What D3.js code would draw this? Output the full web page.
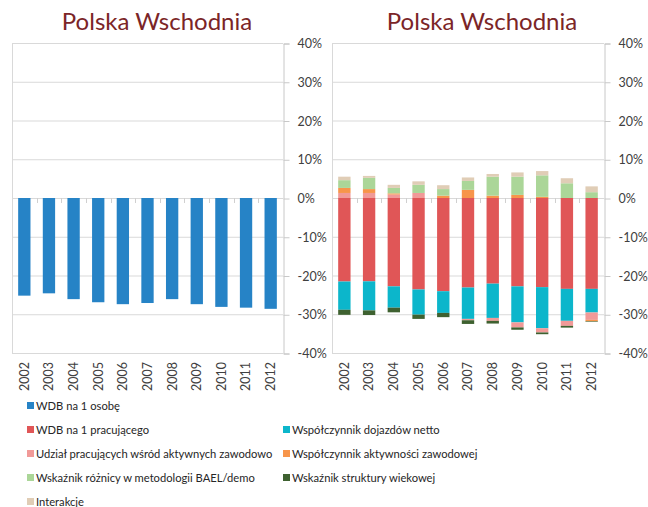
<!DOCTYPE html>
<html>
<head>
<meta charset="utf-8">
<script src="https://cdn.jsdelivr.net/npm/d3@7"></script>
<style>
  body { margin: 0; background: #fff; }
  svg { font-family: Lato, "Open Sans", sans-serif; }
</style>
</head>
<body>
<script>
// categories
const years = ["2002","2003","2004","2005","2006","2007","2008","2009","2010","2011","2012"];

// left chart
const wdbOsobe = [-25.2,-24.6,-26.1,-26.9,-27.4,-27.1,-26.1,-27.4,-28.1,-28.3,-28.6];

// right chart, stacked components
const wdbPrac    = [-21.55,-21.5,-22.8,-23.6,-24.05,-23.1,-22.1,-22.8,-23.0,-23.45,-23.45];
const dojazdy    = [-7.3,-7.5,-5.5,-6.5,-5.6,-8.1,-8.85,-9.3,-10.6,-8.25,-6.1];
const udzial     = [1.3,1.3,0.9,1.3,0.0,-0.35,-0.75,-1.3,-1.1,-1.3,-1.9];
const aktywnosc  = [1.3,1.0,0.3,0.0,0.6,2.1,0.6,0.8,0.3,0.0,-0.35];
const roznica    = [2.0,2.9,1.4,2.1,1.7,2.3,4.9,4.7,5.55,3.8,1.5];
const struktura  = [-1.3,-1.2,-1.2,-1.1,-1.1,-0.95,-0.7,-0.6,-0.45,-0.45,-0.15];
const interakcje = [0.9,0.5,0.8,0.9,1.0,0.9,0.7,1.1,1.1,1.3,1.5];

const yTicks = [-40,-30,-20,-10,0,10,20,30,40];
const titleText = "Polska Wschodnia";

const seriesNames = [
  "WDB na 1 pracującego",
  "Współczynnik dojazdów netto",
  "Udział pracujących wśród aktywnych zawodowo",
  "Współczynnik aktywności zawodowej",
  "Wskaźnik różnicy w metodologii BAEL/demo",
  "Wskaźnik struktury wiekowej",
  "Interakcje"
];
const seriesValues = [wdbPrac, dojazdy, udzial, aktywnosc, roznica, struktura, interakcje];
const seriesColors = ["#e05657","#0cb6cb","#f19a98","#f7954b","#abd698","#3e6130","#e0cdb6"];
const blue = "#2683c6";

const W = 648, H = 507;
const svg = d3.select("body").append("svg").attr("width", W).attr("height", H);

const y = d3.scaleLinear().domain([-40, 40]).range([353, 43]);

// build rows for stacking
const rows = years.map((yr, i) => {
  const r = { year: yr };
  seriesNames.forEach((n, k) => { r[n] = seriesValues[k][i]; });
  return r;
});

function panel(x0, x1, titleX) {
  const g = svg.append("g");
  const x = d3.scaleBand().domain(years).range([x0, x1]).paddingInner(0.5).paddingOuter(0.25);

  // gridlines
  g.selectAll(".grid").data(yTicks).enter().append("line")
    .attr("x1", x0).attr("x2", x1)
    .attr("y1", d => y(d) + 0.5).attr("y2", d => y(d) + 0.5)
    .attr("stroke", "#d9d9d9");
  // left border of plot area
  g.append("line").attr("x1", x0 + 0.5).attr("x2", x0 + 0.5)
    .attr("y1", y(40)).attr("y2", y(-40) + 1).attr("stroke", "#d9d9d9");

  // right axis
  const ax = g.append("g").attr("transform", `translate(${x1 + 0.5},0.5)`)
    .call(d3.axisRight(y).tickValues(yTicks).tickSize(6).tickPadding(8).tickFormat(d => d + "%"));
  ax.select(".domain").attr("stroke", "#c8c8c8");
  ax.selectAll(".tick line").attr("stroke", "#c8c8c8");
  ax.selectAll(".tick text").attr("fill", "#404040").style("font-size", "12.5px")
    .attr("font-family", "Lato, sans-serif").attr("text-anchor", "start");

  // x ticks on zero line between categories
  const step = x.step();
  const edges = d3.range(years.length + 1).map(i => x0 + i * step);
  g.selectAll(".xt").data(edges.slice(1, -1)).enter().append("line")
    .attr("x1", d => Math.round(d) + 0.5).attr("x2", d => Math.round(d) + 0.5)
    .attr("y1", y(0)).attr("y2", y(0) + 5).attr("stroke", "#d0d0d0");

  // x labels
  g.selectAll(".xl").data(years).enter().append("text")
    .attr("transform", d => `translate(${x(d) + x.bandwidth() / 2},362) rotate(-90)`)
    .attr("text-anchor", "end").attr("dy", "0.35em")
    .attr("fill", "#404040").style("font-size", "12.5px")
    .text(d => d);

  // title
  svg.append("text").attr("x", titleX).attr("y", 30).attr("text-anchor", "middle")
    .attr("fill", "#7b2527").style("font-size", "24px").text(titleText);

  return { g, x };
}

// left chart
const L = panel(12, 283, 157);
L.g.selectAll(".bar").data(years).enter().append("rect")
  .attr("x", d => L.x(d)).attr("width", L.x.bandwidth())
  .attr("y", y(0)).attr("height", (d, i) => y(wdbOsobe[i]) - y(0))
  .attr("fill", blue);

// right chart
const R = panel(332, 604, 482);
const stack = d3.stack().keys(seriesNames).offset(d3.stackOffsetDiverging);
const stacked = stack(rows);
R.g.selectAll(".ser").data(stacked).enter().append("g")
  .attr("fill", (d, k) => seriesColors[k])
  .selectAll("rect").data(d => d).enter().append("rect")
  .attr("x", d => R.x(d.data.year)).attr("width", R.x.bandwidth())
  .attr("y", d => y(Math.max(d[0], d[1])))
  .attr("height", d => Math.abs(y(d[0]) - y(d[1])));

// legend
const legend = [
  { name: "WDB na 1 osobę", color: blue, col: 0, row: 0 }
];
seriesNames.forEach((n, k) => {
  const pos = [[0,1],[1,1],[0,2],[1,2],[0,3],[1,3],[0,4]][k];
  legend.push({ name: n, color: seriesColors[k], col: pos[0], row: pos[1] });
});
const lg = svg.append("g");
const li = lg.selectAll(".li").data(legend).enter().append("g")
  .attr("transform", d => `translate(${d.col ? 283 : 27},${406 + d.row * 24})`);
li.append("rect").attr("x", 0).attr("y", -4).attr("width", 7).attr("height", 7).attr("fill", d => d.color);
li.append("text").attr("x", 9).attr("dy", "0.35em").attr("fill", "#262626")
  .style("font-size", "11.2px").text(d => d.name);
</script>
</body>
</html>
